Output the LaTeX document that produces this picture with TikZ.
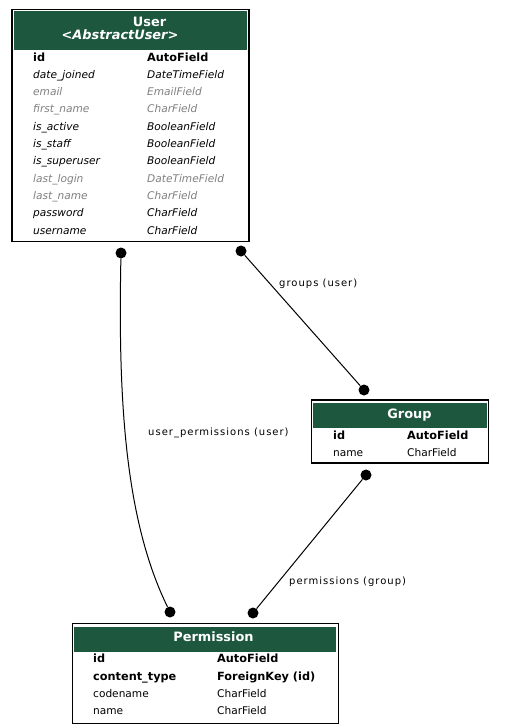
\documentclass[tikz,border=0pt]{standalone}
\usepackage{fontspec}
\setmainfont{DejaVu Sans}
\usepackage{tikz}
\usetikzlibrary{positioning}

\definecolor{hdrgreen}{HTML}{1D573E}
\definecolor{inhgray}{HTML}{808080}

\begin{document}
\begin{tikzpicture}[
  x=1pt, y=-1pt,
  every node/.style={font=\fontsize{10.6}{12}\selectfont, inner sep=0pt},
  tbl/.style={draw=black, line width=1.3pt, fill=white},
  hdr/.style={fill=hdrgreen, draw=none},
  ttl/.style={text=white, anchor=base, font=\fontsize{12.9}{15}\selectfont\bfseries},
  pk/.style={font=\fontsize{11.3}{12}\selectfont\bfseries},
  own/.style={font=\fontsize{10.6}{12}\selectfont\itshape},
  inh/.style={own, text=inhgray},
  plain/.style={},
  dot/.style={circle, fill=black, minimum size=11pt},
  rel/.style={line width=1pt, black},
  lbl/.style={anchor=base west, font=\fontsize{10}{12}\selectfont\addfontfeature{LetterSpace=10}},
]
  \useasboundingbox (0, 0) rectangle (505, 728);

  % User
  \node[tbl, minimum width=237, minimum height=232] (user) at (130.5, 125.5) {};
  \node[hdr, minimum width=233, minimum height=39, anchor=north] (user-hdr) at (130.5, 11) {};
  \node[ttl] (user-ttl) at (149.5, 26.5) {User};
  \node[ttl, font=\fontsize{12.9}{15}\selectfont\bfseries\itshape] (user-abs) at (120, 39.5) {<AbstractUser>};
  \foreach \fname/\ftype/\fst [count=\i] in {
      id/AutoField/pk, date\_joined/DateTimeField/own, email/EmailField/inh,
      first\_name/CharField/inh, is\_active/BooleanField/own,
      is\_staff/BooleanField/own, is\_superuser/BooleanField/own,
      last\_login/DateTimeField/inh, last\_name/CharField/inh,
      password/CharField/own, username/CharField/own} {
    \node[\fst, anchor=base west] (user-f\i) at (33, {61+17.3*(\i-1)}) {\fname};
    \node[\fst, anchor=base west] (user-t\i) at (147, {61+17.3*(\i-1)}) {\ftype};
  }

  % Group
  \node[tbl, minimum width=177, minimum height=63] (group) at (400, 431.5) {};
  \node[hdr, minimum width=174, minimum height=25.5, anchor=north] (group-hdr) at (400, 402.7) {};
  \node[ttl] (group-ttl) at (409.5, 418.5) {Group};
  \foreach \fname/\ftype/\fst [count=\i] in {id/AutoField/pk, name/CharField/plain} {
    \node[\fst, anchor=base west] (group-f\i) at (333, {439+17*(\i-1)}) {\fname};
    \node[\fst, anchor=base west] (group-t\i) at (407, {439+17*(\i-1)}) {\ftype};
  }

  % Permission
  \node[tbl, minimum width=266, minimum height=100] (perm) at (205.3, 673.3) {};
  \node[hdr, minimum width=262, minimum height=25.5, anchor=north] (perm-hdr) at (205.3, 626.7) {};
  \node[ttl] (perm-ttl) at (213.5, 641) {Permission};
  \foreach \fname/\ftype/\fst [count=\i] in {
      id/AutoField/pk, content\_type/ForeignKey (id)/pk,
      codename/CharField/plain, name/CharField/plain} {
    \node[\fst, anchor=base west] (perm-f\i) at (93, {662.7+17.4*(\i-1)}) {\fname};
    \node[\fst, anchor=base west] (perm-t\i) at (217, {662.7+17.4*(\i-1)}) {\ftype};
  }

  % relations
  \node[dot] (user-up) at (121, 253) {};
  \node[dot] (user-gr) at (241, 251) {};
  \node[dot] (group-us) at (364, 390) {};
  \node[dot] (group-pm) at (366, 475) {};
  \node[dot] (perm-us) at (170, 612) {};
  \node[dot] (perm-gr) at (253, 613) {};

  \draw[rel] (user-up) .. controls (118, 400) and (125, 520) .. (perm-us);
  \draw[rel] (user-gr) -- (group-us);
  \draw[rel] (group-pm) -- (perm-gr);

  \node[lbl] (lbl-gr) at (279, 286) {groups (user)};
  \node[lbl] (lbl-up) at (148, 435) {user\_permissions (user)};
  \node[lbl] (lbl-pm) at (289, 584) {permissions (group)};
\end{tikzpicture}
\end{document}
